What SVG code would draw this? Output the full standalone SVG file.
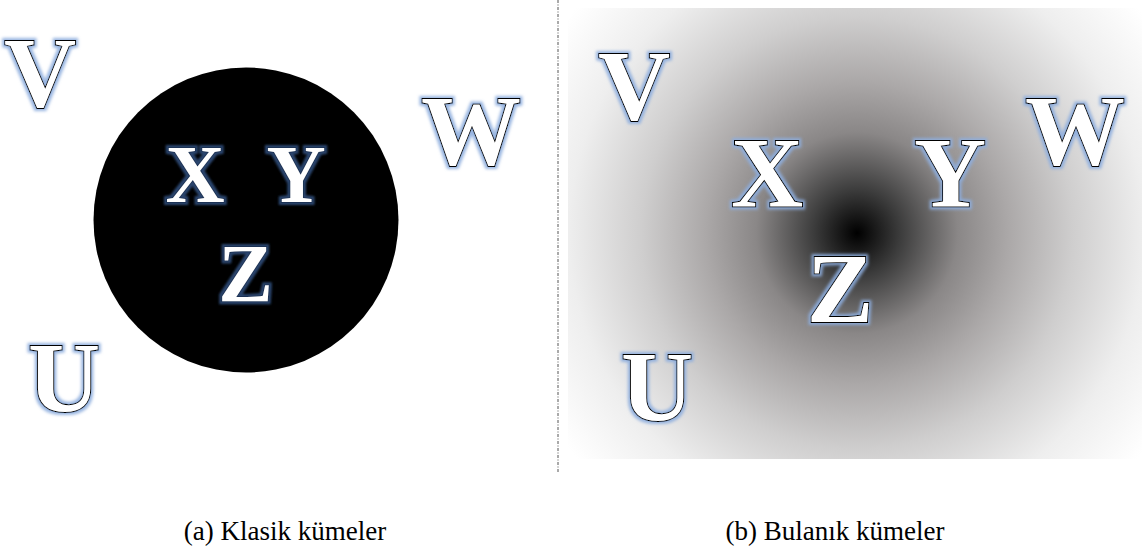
<svg xmlns="http://www.w3.org/2000/svg" width="1145" height="550" viewBox="0 0 1145 550">
<defs>
<style>
.lt{font-family:Liberation Serif;font-weight:bold;fill:#fff;stroke:#000;stroke-width:2;paint-order:stroke;text-anchor:middle}
.big{font-size:100px}
.mid{font-size:82px}
.in{stroke:#1e3354}
.cap{font-family:Liberation Serif;font-size:27px;fill:#000;text-anchor:middle}
</style>
<filter id="glow" x="-20%" y="-20%" width="140%" height="140%">
<feMorphology in="SourceAlpha" operator="dilate" radius="2" result="d"/>
<feGaussianBlur in="d" stdDeviation="1.5" result="b"/>
<feFlood flood-color="#8eaede" flood-opacity="0.9"/>
<feComposite in2="b" operator="in" result="g"/>
<feMerge><feMergeNode in="g"/><feMergeNode in="SourceGraphic"/></feMerge>
</filter>
<filter id="glowd" x="-20%" y="-20%" width="140%" height="140%">
<feMorphology in="SourceAlpha" operator="dilate" radius="2" result="d"/>
<feGaussianBlur in="d" stdDeviation="1" result="b"/>
<feFlood flood-color="#2a456e" flood-opacity="1"/>
<feComposite in2="b" operator="in" result="g"/>
<feMerge><feMergeNode in="g"/><feMergeNode in="SourceGraphic"/></feMerge>
</filter>
<radialGradient id="fuzzy" gradientUnits="userSpaceOnUse" cx="857" cy="233" r="360">
<stop offset="0" stop-color="#000"/>
<stop offset="0.12" stop-color="#3c3c3c"/>
<stop offset="0.28" stop-color="#8a8787"/>
<stop offset="0.42" stop-color="#aba8a8"/>
<stop offset="0.6" stop-color="#cfcece"/>
<stop offset="0.8" stop-color="#eeeeee"/>
<stop offset="1" stop-color="#fff"/>
</radialGradient>
</defs>
<rect width="1145" height="550" fill="#fff"/>
<g id="connectors">
<line x1="558" y1="0" x2="558" y2="472" stroke="#555" stroke-width="1" stroke-dasharray="3,1.5,1,1.5"/>
</g>
<g id="panel-a">
<circle id="crisp-set" cx="246" cy="220" r="152.5" fill="#000"/>
<g id="a-V"><text class="lt big" x="40" y="106" filter="url(#glow)">V</text></g>
<g id="a-W"><text class="lt big" x="471" y="164" filter="url(#glow)">W</text></g>
<g id="a-U"><text class="lt big" x="64" y="411" filter="url(#glow)">U</text></g>
<g id="a-X"><text class="lt mid in" x="195" y="202" filter="url(#glowd)">X</text></g>
<g id="a-Y"><text class="lt mid in" x="296" y="202" filter="url(#glowd)">Y</text></g>
<g id="a-Z"><text class="lt mid in" x="245.5" y="301" filter="url(#glowd)">Z</text></g>
<text class="cap" x="285" y="540">(a) Klasik kümeler</text>
</g>
<g id="panel-b">
<rect id="fuzzy-set" x="568" y="8" width="574" height="451" fill="url(#fuzzy)"/>
<g id="b-V"><text class="lt big" x="634" y="119" filter="url(#glow)">V</text></g>
<g id="b-X"><text class="lt big" x="767" y="206" filter="url(#glow)">X</text></g>
<g id="b-Y"><text class="lt big" x="950" y="206" filter="url(#glow)">Y</text></g>
<g id="b-W"><text class="lt big" x="1075" y="164" filter="url(#glow)">W</text></g>
<g id="b-Z"><text class="lt big" x="840" y="322" filter="url(#glow)">Z</text></g>
<g id="b-U"><text class="lt big" x="657" y="420" filter="url(#glow)">U</text></g>
<text class="cap" x="835" y="540">(b) Bulanık kümeler</text>
</g>
</svg>
